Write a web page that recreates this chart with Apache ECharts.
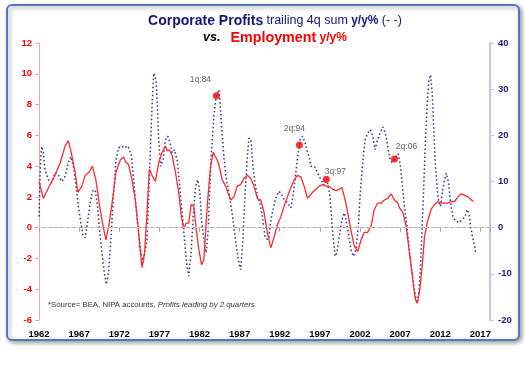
<!DOCTYPE html>
<html><head><meta charset="utf-8">
<script src="https://cdn.jsdelivr.net/npm/echarts@6.0.0/dist/echarts.min.js"></script>
<style>html,body{margin:0;padding:0;background:#fff}#c{width:525px;height:365px}</style>
</head><body><div id="c"></div>
<script>
// ---- data ----
const empYears = [1962.00,1962.54,1963.38,1964.00,1964.63,1965.25,1965.66,1966.09,1966.50,1966.84,1967.34,1967.75,1968.25,1968.66,1969.09,1969.50,1969.91,1970.34,1970.75,1971.16,1971.59,1972.13,1972.54,1972.75,1973.16,1973.59,1974.00,1974.34,1974.63,1974.84,1975.16,1975.46,1975.75,1976.09,1976.50,1976.91,1977.34,1977.75,1977.96,1978.25,1978.59,1979.00,1979.41,1979.75,1980.04,1980.34,1980.66,1980.96,1981.29,1981.59,1981.91,1982.25,1982.54,1982.96,1983.38,1983.71,1984.21,1984.41,1984.84,1985.25,1985.88,1986.29,1986.71,1987.13,1987.54,1987.96,1988.38,1988.79,1989.21,1989.63,1990.04,1990.46,1990.88,1991.29,1991.71,1992.13,1992.54,1992.96,1993.38,1993.79,1994.21,1994.63,1995.04,1995.46,1995.66,1996.09,1996.50,1996.91,1997.34,1997.75,1998.16,1998.59,1999.00,1999.41,1999.75,2000.16,2000.46,2000.88,2001.29,2001.71,2002.13,2002.54,2002.96,2003.38,2003.79,2004.21,2004.63,2005.04,2005.46,2005.88,2006.29,2006.71,2006.91,2007.34,2007.75,2008.16,2008.59,2008.91,2009.13,2009.41,2009.75,2010.04,2010.46,2010.88,2011.29,2011.71,2012.13,2012.54,2012.96,2013.38,2013.79,2014.21,2014.63,2015.04,2015.46,2015.88,2016.16];
const empValues = [3.0,1.9,2.8,3.4,4.2,5.3,5.65,4.7,3.6,2.3,2.7,3.4,3.6,4.0,3.1,1.6,0.3,-0.8,0.3,1.8,3.6,4.4,4.6,4.3,4.1,3.1,1.8,0.1,-1.6,-2.6,-1.6,1.0,3.8,3.4,3.0,4.2,4.9,5.3,5.0,5.05,4.7,3.6,2.3,0.7,-0.1,0.3,0.3,1.5,1.4,-0.1,-1.4,-2.4,-2.1,1.4,4.0,4.9,4.4,4.1,3.1,2.7,1.8,2.0,2.7,2.8,3.2,3.4,3.2,2.7,1.9,1.8,1.0,-0.3,-1.3,-0.65,0.2,0.7,1.4,2.0,2.6,3.1,3.4,3.3,2.7,1.9,1.8,2.3,2.5,2.7,2.8,2.7,2.7,2.5,2.4,2.5,2.6,1.8,1.0,-0.2,-1.2,-1.55,-0.8,-0.3,-0.3,0.1,1.2,1.6,1.6,1.8,1.9,2.2,1.8,1.6,1.3,1.0,0.1,-1.6,-3.4,-4.7,-4.9,-4.2,-2.5,-0.6,0.5,1.2,1.5,1.7,1.6,1.6,1.6,1.7,1.7,2.0,2.2,2.1,2.0,1.8,1.7];

const profYears = [1962.00,1962.10,1962.20,1962.34,1962.54,1962.75,1963.16,1963.59,1964.00,1964.41,1964.84,1965.25,1965.66,1965.96,1966.29,1966.63,1966.91,1967.21,1967.46,1967.75,1968.04,1968.38,1968.66,1969.00,1969.29,1969.54,1969.84,1970.13,1970.38,1970.66,1970.96,1971.29,1971.59,1971.91,1972.25,1972.66,1973.09,1973.50,1973.79,1974.09,1974.41,1974.71,1974.96,1975.16,1975.46,1975.66,1975.88,1976.09,1976.29,1976.59,1976.75,1976.91,1977.16,1977.46,1977.75,1978.04,1978.29,1978.59,1978.88,1979.21,1979.50,1979.84,1980.13,1980.38,1980.66,1980.96,1981.21,1981.50,1981.79,1982.04,1982.25,1982.54,1982.84,1983.09,1983.29,1983.50,1983.79,1984.09,1984.41,1984.54,1984.75,1985.04,1985.34,1985.66,1986.00,1986.29,1986.59,1986.91,1987.13,1987.41,1987.66,1987.96,1988.16,1988.41,1988.66,1988.91,1989.21,1989.50,1989.84,1990.16,1990.46,1990.66,1990.88,1991.16,1991.50,1991.91,1992.25,1992.54,1992.96,1993.38,1993.66,1994.00,1994.29,1994.45,1994.54,1994.84,1995.16,1995.46,1995.66,1995.88,1996.29,1996.71,1997.13,1997.54,1997.85,1998.25,1998.50,1998.71,1998.91,1999.13,1999.41,1999.75,2000.04,2000.25,2000.54,2000.88,2001.16,2001.50,2001.79,2002.04,2002.34,2002.63,2002.96,2003.29,2003.59,2003.88,2004.13,2004.41,2004.84,2005.16,2005.46,2005.75,2006.00,2006.29,2006.78,2007.04,2007.25,2007.54,2007.84,2008.09,2008.38,2008.66,2008.91,2009.13,2009.34,2009.54,2009.75,2009.96,2010.16,2010.38,2010.59,2010.79,2011.00,2011.21,2011.41,2011.63,2011.84,2012.04,2012.25,2012.46,2012.75,2013.04,2013.29,2013.59,2013.91,2014.34,2014.75,2015.09,2015.34,2015.59,2015.79,2016.00,2016.29,2016.41];
const profValues = [2.4,8.9,14.7,17.6,16.2,12.6,10.4,9.7,11.9,11.5,10.0,11.1,14.1,15.4,13.3,8.9,4.6,1.1,-1.5,-2.2,1.1,5.4,7.9,8.2,4.6,-0.4,-5.4,-9.7,-12.3,-9.7,-2.6,7.6,14.7,17.3,17.7,17.3,17.7,15.8,10.4,4.6,-1.1,-5.4,-7.6,-7.3,-2.6,6.1,16.9,26.3,33.5,32.0,26.3,19.0,13.3,14.7,19.0,19.8,18.7,16.2,16.9,14.7,9.7,3.2,-2.6,-7.6,-10.5,-5.4,2.4,8.9,10.4,7.6,1.7,-2.6,-5.4,-0.4,8.9,16.9,24.1,28.6,29.9,27.7,21.9,15.4,10.4,7.6,3.9,0.3,-4.0,-7.6,-9.1,-2.6,6.8,15.4,19.4,19.0,13.3,9.7,6.8,5.4,2.4,-1.9,-2.6,-1.9,1.7,3.9,6.4,7.9,7.1,6.1,5.4,4.3,6.8,11.9,16.2,17.9,19.0,19.8,18.4,16.2,15.4,13.3,13.3,11.9,10.4,9.2,10.6,6.8,1.1,-3.2,-6.2,-5.4,-1.9,1.7,3.2,1.7,-1.1,-4.8,-6.2,-4.8,0.3,7.6,14.1,19.0,20.5,21.2,19.8,16.9,18.7,20.1,21.8,20.5,17.6,14.7,14.1,14.9,16.0,13.3,9.7,4.6,0.3,-4.0,-8.4,-12.0,-14.9,-16.3,-14.1,-8.4,0.3,9.7,19.0,27.0,32.0,33.1,29.2,20.5,13.3,8.2,5.3,4.6,7.5,9.7,11.8,9.7,5.3,2.4,1.4,1.1,1.7,2.4,3.9,3.2,0.3,-1.9,-4.0,-5.5];

const noteYears  = [1984.10, 1994.45, 1997.80, 2006.30];
const noteValues = [28.6, 17.9, 10.5, 14.9];
const noteLabels = ['1q:84', '2q:94', '3q:97', '2q:06'];

const xTickYears  = [1962,1967,1972,1977,1982,1987,1992,1997,2002,2007,2012,2017];
const leftTicks   = [-6,-4,-2,0,2,4,6,8,10,12];
const rightTicks  = [-20,-10,0,10,20,30,40];

// ---- build ----
const base = xTickYears[0];
const step = xTickYears[1] - xTickYears[0];
const FF = '"Liberation Sans", Arial, sans-serif';
const noteOffsets = [[-16,-8],[-5,-8.5],[9,0],[12,-4.5]];

const empData  = empYears.map((y,i)=>[y-base, empValues[i]]);
const profData = profYears.map((y,i)=>[y-base, profValues[i]]);
const noteData = noteYears.map((y,i)=>({value:[y-base, noteValues[i]], label:{formatter:noteLabels[i], offset:noteOffsets[i]}}));

const chart = echarts.init(document.getElementById('c'), null, {renderer:'canvas'});
chart.setOption({
  animation:false,
  backgroundColor:'#fff',
  graphic:[
    {type:'rect', z:-10, shape:{x:7,y:5,width:512,height:335,r:5},
     style:{fill:'#fff', stroke:'#5277bf', lineWidth:2, shadowBlur:4, shadowColor:'rgba(0,0,0,0.35)', shadowOffsetX:2, shadowOffsetY:2}},
    {type:'text', x:275, y:21, style:{text:'{a|Corporate Profits} {b|trailing 4q sum} {c|y/y%} {b|(- -)}', align:'center', verticalAlign:'middle',
      rich:{a:{fontSize:14,fontWeight:'bold',fill:'#14147a',fontFamily:FF},
            b:{fontSize:12.5,fill:'#14147a',fontFamily:FF},
            c:{fontSize:12,fontWeight:'bold',fill:'#14147a',fontFamily:FF}}}},
    {type:'text', x:275, y:38, style:{text:'{v|vs.}   {e|Employment} {f|y/y%}', align:'center', verticalAlign:'middle',
      rich:{v:{fontSize:12.5,fontWeight:'bold',fontStyle:'italic',fill:'#000',fontFamily:FF},
            e:{fontSize:14.3,fontWeight:'bold',fill:'#ff0000',fontFamily:FF},
            f:{fontSize:12,fontWeight:'bold',fill:'#ff0000',fontFamily:FF}}}},
    {type:'text', x:48, y:305, style:{text:'{n|*Source= BEA, NIPA accounts, }{i|Profits leading by 2 quarters}', align:'left', verticalAlign:'middle',
      rich:{n:{fontSize:7.8,fill:'#333',fontFamily:FF}, i:{fontSize:7.8,fontStyle:'italic',fill:'#333',fontFamily:FF}}}}
  ],
  grid:{left:39, right:35, top:43, bottom:45},
  xAxis:{type:'value', min:0, max:56.2, interval:step,
    axisLine:{lineStyle:{color:'#a0a0a0', width:1}},
    axisTick:{length:4, lineStyle:{color:'#a0a0a0'}},
    axisLabel:{margin:9, fontSize:9.5, fontWeight:'bold', color:'#000', fontFamily:FF,
      formatter:v=>{const k=v/step; return Math.abs(k-Math.round(k))<1e-6 ? String(base+Math.round(k)*step) : '';}},
    splitLine:{show:false}},
  yAxis:[
    {type:'value', position:'left', min:leftTicks[0], max:leftTicks[leftTicks.length-1], interval:leftTicks[1]-leftTicks[0],
      axisLine:{show:true, lineStyle:{color:'#f3a3a3', width:1}},
      axisTick:{show:true, length:4, lineStyle:{color:'#f3a3a3'}},
      axisLabel:{margin:7, fontSize:9.5, fontWeight:'bold', color:'#ff0000', fontFamily:FF},
      splitLine:{show:false}},
    {type:'value', position:'right', min:rightTicks[0], max:rightTicks[rightTicks.length-1], interval:rightTicks[1]-rightTicks[0],
      axisLine:{show:true, lineStyle:{color:'#c4c4e6', width:2}},
      axisTick:{show:true, length:4, lineStyle:{color:'#c4c4e6', width:1}},
      axisLabel:{margin:8, fontSize:9.5, fontWeight:'bold', color:'#1a1a7a', fontFamily:FF},
      splitLine:{show:false}}
  ],
  series:[
    {type:'line', name:'Profits', yAxisIndex:1, data:profData, showSymbol:false, symbol:'none', z:3,
      lineStyle:{color:'#2e2e98', width:1.5, type:[1.5,2.5], cap:'butt'}},
    {type:'line', name:'Employment', yAxisIndex:0, data:empData, showSymbol:false, symbol:'none', z:4,
      lineStyle:{color:'#ff2a2a', width:1.3},
      markLine:{silent:true, symbol:'none', label:{show:false}, data:[{yAxis:0}],
        lineStyle:{color:'#cfcfcf', type:'dashed', width:1}}},
    {type:'scatter', name:'notes', yAxisIndex:1, data:noteData, symbolSize:7, z:5,
      itemStyle:{color:'#ff0000'},
      label:{show:true, position:'top', distance:0, fontSize:8.5, color:'#333', fontFamily:FF}}
  ]
});
</script></body></html>
